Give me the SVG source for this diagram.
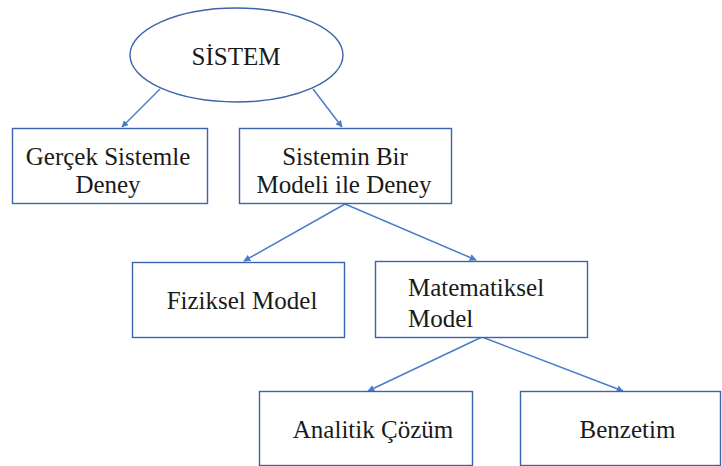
<svg xmlns="http://www.w3.org/2000/svg" width="722" height="466" viewBox="0 0 722 466">
<style>
.box{fill:#fff;stroke:#3B64AD;stroke-width:1.4}
.t{font-family:'Liberation Serif','DejaVu Serif',serif;font-size:25px;fill:#1a1a1a}
.c{stroke:#4A7CCB;stroke-width:1.5;fill:none;marker-end:url(#ah)}
</style>
<defs>
<marker id="ah" viewBox="0 0 10 10" refX="9" refY="5" markerWidth="7" markerHeight="7" markerUnits="userSpaceOnUse" orient="auto">
<path d="M0,0 L10,5 L0,10 z" fill="#4A7CCB"/>
</marker>
</defs>
<rect width="722" height="466" fill="#fff"/>
<g id="connectors">
<line class="c" x1="160" y1="89" x2="122" y2="127"/>
<line class="c" x1="313" y1="89" x2="342" y2="127"/>
<line class="c" x1="345" y1="204" x2="244" y2="261"/>
<line class="c" x1="345" y1="204" x2="476" y2="260"/>
<line class="c" x1="482" y1="337" x2="368" y2="391"/>
<line class="c" x1="482" y1="337" x2="623" y2="391"/>
</g>
<g id="sistem">
<ellipse cx="236.5" cy="55" rx="106.5" ry="47" fill="#fff" stroke="#3B64AD" stroke-width="1.4"/>
<text class="t" x="236" y="65" text-anchor="middle">SİSTEM</text>
</g>
<g id="gercek">
<rect class="box" x="12.5" y="128.5" width="195" height="75"/>
<text class="t" x="108" y="165" text-anchor="middle">Gerçek Sistemle</text>
<text class="t" x="108" y="193" text-anchor="middle">Deney</text>
</g>
<g id="modeli">
<rect class="box" x="239.5" y="128.5" width="212" height="75"/>
<text class="t" x="345" y="165" text-anchor="middle">Sistemin Bir</text>
<text class="t" x="344" y="193" text-anchor="middle">Modeli ile Deney</text>
</g>
<g id="fiziksel">
<rect class="box" x="132.5" y="262.5" width="212" height="75"/>
<text class="t" x="242" y="309" text-anchor="middle">Fiziksel Model</text>
</g>
<g id="matematiksel">
<rect class="box" x="375.5" y="261.5" width="212" height="76"/>
<text class="t" x="408" y="296">Matematiksel</text>
<text class="t" x="408" y="327">Model</text>
</g>
<g id="analitik">
<rect class="box" x="259.5" y="391.5" width="213" height="74"/>
<text class="t" x="373" y="438" text-anchor="middle">Analitik Çözüm</text>
</g>
<g id="benzetim">
<rect class="box" x="520.5" y="391.5" width="200" height="74"/>
<text class="t" x="627.5" y="438" text-anchor="middle">Benzetim</text>
</g>
</svg>
